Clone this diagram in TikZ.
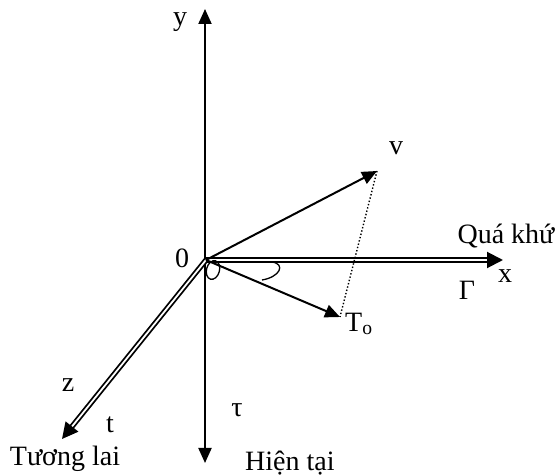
\documentclass[tikz,border=0pt]{standalone}
\usepackage{fontspec}
\setmainfont{Liberation Serif}
\usetikzlibrary{arrows.meta}
\begin{document}
\begin{tikzpicture}[x=1pt,y=-1pt,
  axis/.style={line width=2pt},
  dbl/.style={double, line width=1.8pt, double distance=1.8pt},
  tip/.style={-{Triangle[length=15pt,width=13pt]}},
  bigtip/.style={-{Triangle[length=16pt,width=16pt]}},
  lbl/.style={font=\fontsize{28}{30}\selectfont, inner sep=0pt}]
\useasboundingbox (0,0) rectangle (558,476);
% coordinates
\coordinate (O) at (206,260);
\coordinate (ytop) at (205,9);
\coordinate (ybot) at (205,463);
\coordinate (xend) at (490,260);
\coordinate (xtip) at (503,260);
\coordinate (zend) at (70,429);
\coordinate (ztip) at (62,439);
\coordinate (V) at (377,171);
\coordinate (T) at (340,317);
% vertical axis
\draw[axis, {Triangle[length=15pt,width=13pt]}-{Triangle[length=15pt,width=13pt]}] (ytop) -- (ybot);
% x axis (double)
\draw[dbl] (O) -- (xend);
\draw[axis, bigtip] (xend) -- (xtip);
% z axis (double)
\draw[dbl] (O) -- (zend);
\draw[axis, bigtip] (zend) -- (ztip);
% vectors
\draw[axis, tip] (O) -- (V);
\draw[axis, tip] (O) -- (T);
\draw[line width=1.4pt, dotted] (V) -- (T);
% angle marks
\draw[line width=1.3pt, rotate around={-15:(213,270)}] (213,270) ellipse (6.5 and 9.5);
\draw[line width=1.3pt] (272,262) .. controls (286,264) and (280,277) .. (262,280);
% labels
\node[lbl] (ly) at (180,22) {y};
\node[lbl] (l0) at (182,258) {0};
\node[lbl] (lv) at (396,148) {v};
\node[lbl] (lq) at (506,236) {Quá khứ};
\node[lbl] (lx) at (505,276) {x};
\node[lbl] (lG) at (467,290) {Γ};
\node[lbl, anchor=west] (lT) at (345,324) {T\textsubscript{o}};
\node[lbl] (lz) at (68,385) {z};
\node[lbl] (lt) at (110,425) {t};
\node[lbl] (ltau) at (237,410) {τ};
\node[lbl] (ltl) at (65,459) {Tương lai};
\node[lbl, anchor=west] (lht) at (245,463) {Hiện tại};
\end{tikzpicture}
\end{document}
